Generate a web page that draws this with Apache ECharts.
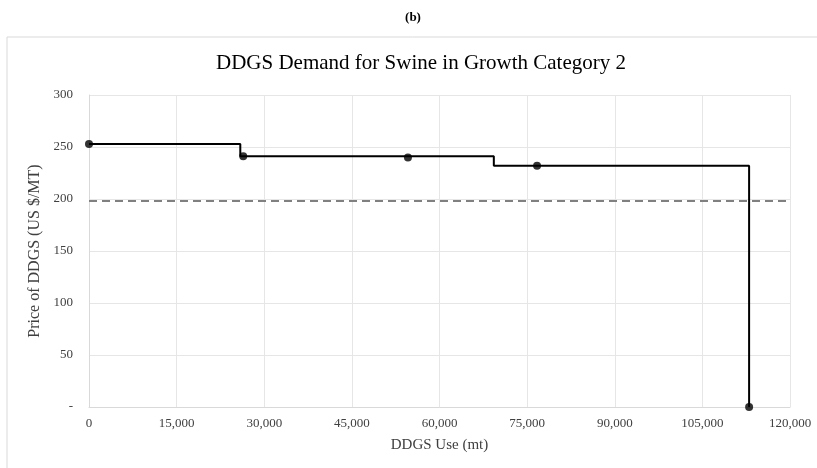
<!DOCTYPE html>
<html>
<head>
    <meta charset="UTF-8"/>
    <title>DDGS Demand for Swine in Growth Category 2</title>
    <style>
        html, body { margin: 0; padding: 0; background: #fff; }
        #chart { width: 817px; height: 468px; }
    </style>
</head>
<body>
<div id="chart"></div>
<script src="https://cdn.jsdelivr.net/npm/echarts@6/dist/echarts.min.js"></script>
<script type="text/javascript">
    // 需求阶梯线的拐点
    const stepX = [0, 25900, 25900, 69300, 69300, 113000, 113000];
    const stepY = [253, 253, 241, 241, 232, 232, 0];
    // 标记点
    const dotX = [0, 26400, 54600, 76700, 113000];
    const dotY = [253, 241, 240, 232, 0];
    // 价格虚线
    const priceX = [0, 120000];
    const priceY = [198, 198];
    const xTicks = [0, 15000, 30000, 45000, 60000, 75000, 90000, 105000, 120000];
    const yTicks = [0, 50, 100, 150, 200, 250, 300];

    const pairs = (xs, ys) => xs.map((x, i) => [x, ys[i]]);
    const serif = "Liberation Serif";

    const chart = echarts.init(document.getElementById("chart"));
    chart.setOption({
        animation: false,
        textStyle: {fontFamily: serif},
        title: [{
            text: "(b)",
            left: 408, top: 6, textAlign: "center",
            textStyle: {fontFamily: serif, fontSize: 13, fontWeight: "bold", color: "#000"}
        }, {
            text: "DDGS Demand for Swine in Growth Category 2",
            left: 416, top: 48, textAlign: "center",
            textStyle: {fontFamily: serif, fontSize: 21, fontWeight: "normal", color: "#000"}
        }],
        graphic: [{
            type: "rect",
            shape: {x: 7, y: 37, width: 830, height: 450},
            style: {fill: "none", stroke: "#d9d9d9", lineWidth: 1},
            silent: true
        }],
        grid: {left: 89, right: 27, top: 95, bottom: 61},
        xAxis: {
            type: "value",
            min: 0, max: 120000, interval: 15000,
            name: "DDGS Use (mt)",
            nameLocation: "middle", nameGap: 31,
            nameTextStyle: {fontFamily: serif, fontSize: 15, color: "#404040"},
            axisLine: {show: true, lineStyle: {color: "#d9d9d9"}},
            axisTick: {show: false},
            splitLine: {lineStyle: {color: "#e6e6e6"}},
            axisLabel: {
                fontFamily: serif, fontSize: 13, color: "#404040", margin: 10,
                formatter: v => xTicks.includes(v) ? v.toLocaleString("en-US") : ""
            }
        },
        yAxis: {
            type: "value",
            min: 0, max: 300, interval: 50,
            name: "Price of DDGS (US $/MT)",
            nameLocation: "middle", nameGap: 46,
            nameTextStyle: {fontFamily: serif, fontSize: 16, color: "#404040"},
            axisLine: {show: true, lineStyle: {color: "#d9d9d9"}},
            axisTick: {show: false},
            splitLine: {lineStyle: {color: "#e6e6e6"}},
            axisLabel: {
                fontFamily: serif, fontSize: 13, color: "#404040", margin: 16,
                formatter: v => yTicks.includes(v) ? (v === 0 ? "-" : String(v)) : ""
            }
        },
        series: [{
            name: "price",
            type: "line",
            data: pairs(priceX, priceY),
            symbol: "none",
            lineStyle: {color: "#808080", width: 2, type: [8, 5]},
            z: 1
        }, {
            name: "demand",
            type: "line",
            data: pairs(stepX, stepY),
            symbol: "none",
            lineStyle: {color: "#000", width: 2},
            z: 2
        }, {
            name: "dots",
            type: "scatter",
            data: pairs(dotX, dotY),
            clip: false,
            symbolSize: 8,
            itemStyle: {color: "#000"},
            z: 3
        }]
    });
</script>
</body>
</html>
